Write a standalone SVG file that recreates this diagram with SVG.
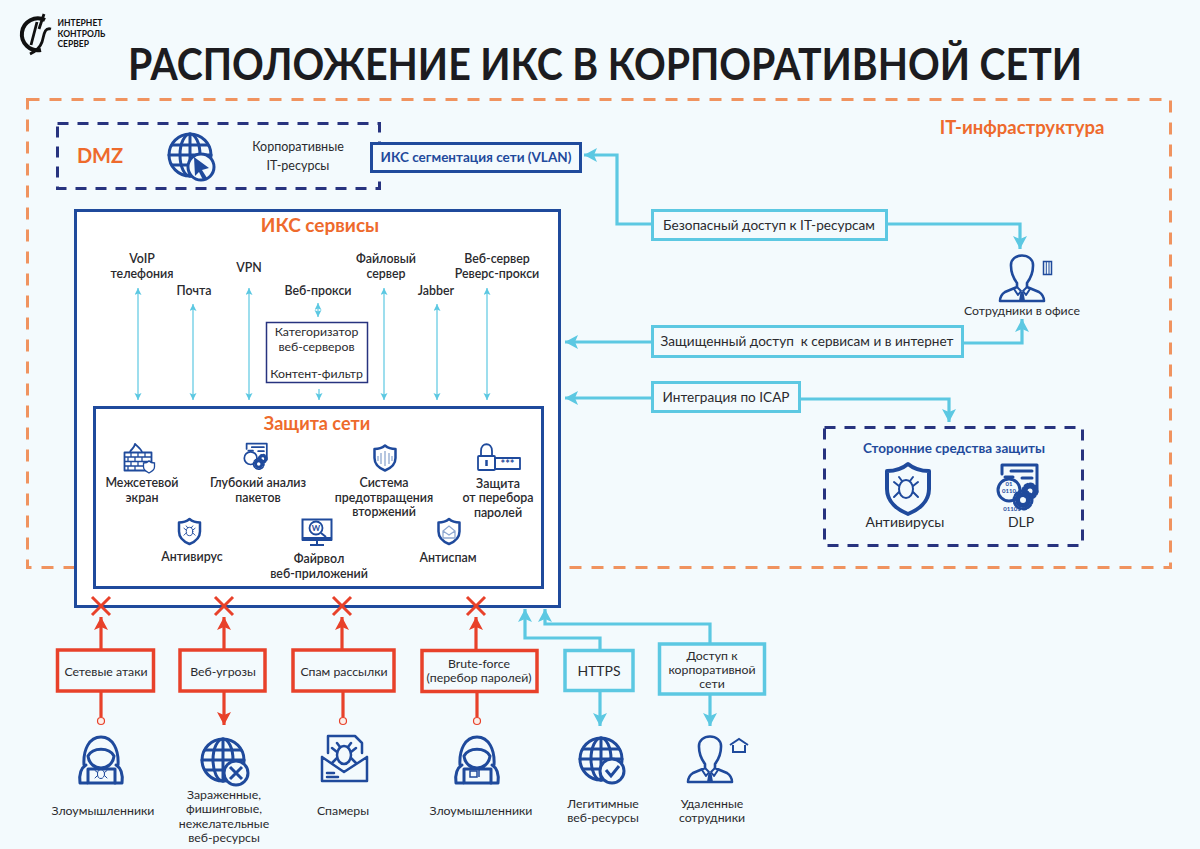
<svg xmlns="http://www.w3.org/2000/svg" width="1200" height="849" viewBox="0 0 1200 849">
<style>
text{font-family:"Lato","Noto Sans","Liberation Sans",sans-serif;fill:#2a2a2e;text-anchor:middle}
.t{font-size:13.6px}
.l{font-size:12.300px}
.s{font-size:12.400px;font-weight:600}
.o{fill:#ee6a2c;font-weight:700}
.n{fill:#1f4a9c;font-weight:700}
.lg{font-size:8.500px;font-weight:700;text-anchor:start;fill:#111}
.box{fill:#f3fafd;stroke-width:3.5}
.red{stroke:#e8412a}
.cy{stroke:#5cc8e2}
.dash{fill:none;stroke:#27337f;stroke-width:3;stroke-dasharray:11 9}
.ic{fill:none;stroke:#1f4a9c;stroke-width:3;stroke-linejoin:round;stroke-linecap:round}
.c{fill:none;stroke-width:3.2}
.thin{fill:none;stroke:#5cc8e2;stroke-width:1.2}
.x{stroke:#e8412a;stroke-width:3;fill:none}
.i2{fill:none;stroke:#1f4a9c;stroke-width:1.800;stroke-linejoin:round}
.mini{font-size:6px;fill:#1f4a9c;font-weight:700}
</style>
<defs>
<marker id="ac" markerUnits="userSpaceOnUse" markerWidth="16" markerHeight="16" refX="13" refY="7" orient="auto"><path d="M0,0 L13,7 L0,14 L3,7 Z" fill="#5cc8e2"/></marker>
<marker id="ar" markerUnits="userSpaceOnUse" markerWidth="16" markerHeight="16" refX="13" refY="7" orient="auto"><path d="M0,0 L13,7 L0,14 L3,7 Z" fill="#e8412a"/></marker>
<marker id="at" markerUnits="userSpaceOnUse" markerWidth="8" markerHeight="8" refX="7" refY="3.5" orient="auto-start-reverse"><path d="M0,0 L7,3.500 L0,7 L1.500,3.500 Z" fill="#5cc8e2"/></marker>
<symbol id="globe" overflow="visible" viewBox="-24 -24 48 48" width="48" height="48"><circle r="21"/><ellipse rx="10" ry="21"/><path d="M0,-21V21M-21,0H21M-18,-10H18M-18,10H18"/></symbol>
<symbol id="shield" overflow="visible" viewBox="-24 -27 48 54" width="48" height="54"><path d="M0,-25C6,-20 14,-18 21,-18V0C21,13 10,21 0,25C-10,21 -21,13 -21,0V-18C-14,-18 -6,-20 0,-25Z"/></symbol>
<symbol id="bug" overflow="visible" viewBox="-14 -14 28 28" width="28" height="28"><ellipse rx="7" ry="9"/><path d="M-7,-3L-12,-7M7,-3L12,-7M-7,3L-12,8M7,3L12,8M-4,-8L-7,-12M4,-8L7,-12"/></symbol>
<symbol id="person" overflow="visible" viewBox="-24 -25 48 50" width="48" height="50"><path d="M-11,-12C-12,-26 12,-26 11,-12C11,-5 8,1 5,5V9L17,14C20,16 22,20 22,23H-22C-22,20 -20,16 -17,14L-5,9V5C-8,1 -11,-5 -11,-12Z" stroke-width="2.600"/><path d="M-5,9L-1,13L-4,17L-8,11M5,9L1,13L4,17L8,11" stroke-width="2"/><path d="M-1.500,14H1.500L3,23H-3Z" fill="#1f4a9c" stroke="none"/></symbol>
<symbol id="hacker" overflow="visible" viewBox="-24 -25 48 50" width="48" height="50"><path d="M-17,5C-18,-10 -12,-23 0,-23C12,-23 18,-10 17,5"/><path d="M-13,-4C-8,-13 8,-13 13,-4C12,4 6,8 0,8C-6,8 -12,4 -13,-4Z"/><path d="M-14,23H-21C-22,15 -20,8 -15,5M14,23H21C22,15 20,8 15,5"/><rect x="-13" y="9" width="27" height="14"/></symbol>
<symbol id="gears" overflow="visible" viewBox="0 0 48 52" width="48" height="52"><path d="M6,12V3H41V30" stroke-width="3"/><path d="M15,9H36M26,16H36" stroke-width="3"/><circle cx="13" cy="28" r="11" stroke-width="3"/><path d="M9,15H17" stroke-width="3"/><circle cx="34" cy="29" r="4.500" stroke-width="4"/><circle cx="34" cy="29" r="7" stroke-width="3" stroke-dasharray="3 2.500"/><circle cx="27" cy="38" r="5.500" stroke-width="5"/><circle cx="27" cy="38" r="9" stroke-width="3" stroke-dasharray="3 2.500"/></symbol>
</defs>
<rect width="1200" height="849" fill="#f3fafd"/>

<g id="logo">
<path d="M45,20A16,16 0 1 0 41,50" fill="none" stroke="#111" stroke-width="4"/>
<path d="M37,22L31,45M44,14L39,29M51,29C44,27 44,36 42,42C40,48 36,51 30,54" fill="none" stroke="#111" stroke-width="2.800"/>
<text x="57.500" y="26" class="lg">ИНТЕРНЕТ</text>
<text x="57.500" y="36.500" class="lg">КОНТРОЛЬ</text>
<text x="57.500" y="47" class="lg">СЕРВЕР</text>
</g>
<text id="title" x="605" y="80" style="font-size:44px;font-weight:700;fill:#1c1c20" textLength="954" lengthAdjust="spacingAndGlyphs">РАСПОЛОЖЕНИЕ ИКС В КОРПОРАТИВНОЙ СЕТИ</text>

<g id="it-infra">
<rect x="27.500" y="99.500" width="1143" height="468" fill="none" stroke="#f0935f" stroke-width="3" stroke-dasharray="12 10"/>
<text x="1022" y="134" class="o" style="font-size:18.500px">IT-инфраструктура</text>
</g>

<g id="dmz">
<rect x="57.500" y="123.500" width="322" height="65" class="dash"/>
<text x="100" y="163" class="o" style="font-size:20px">DMZ</text>
<use href="#globe" x="166" y="131" class="ic"/>
<circle cx="201" cy="167" r="13" fill="#f3fafd" stroke="#1f4a9c" stroke-width="3"/>
<path d="M194,157L209,168L202,170L207,178L203,180L199,172L195,176Z" fill="#1f4a9c"/>
<text x="298" y="151" style="font-size:12.500px">Корпоративные</text>
<text x="298" y="170" style="font-size:12.500px">IT-ресурсы</text>
</g>
<g id="vlan">
<rect x="371.500" y="143.500" width="209" height="28" fill="#f3fafd" stroke="#1f4a9c" stroke-width="3"/>
<text x="476" y="162" class="n" style="font-size:13.500px">ИКС сегментация сети (VLAN)</text>
</g>

<g id="services">
<rect x="75.500" y="210.500" width="484" height="396" fill="#fff" stroke="#1f4a9c" stroke-width="3"/>
<text x="320" y="232" class="o" style="font-size:19px">ИКС сервисы</text>
<text x="142" y="263" class="s">VoIP</text><text x="142" y="278" class="s">телефония</text>
<text x="194" y="295" class="s">Почта</text>
<text x="249" y="272" class="s">VPN</text>
<text x="318" y="295" class="s">Веб-прокси</text>
<text x="386" y="263" class="s">Файловый</text><text x="386" y="278" class="s">сервер</text>
<text x="436" y="295" class="s">Jabber</text>
<text x="497" y="263" class="s">Веб-сервер</text><text x="497" y="278" class="s">Реверс-прокси</text>
</g>
<g id="categorizer">
<rect x="266.500" y="322.500" width="101" height="60" fill="#fff" stroke="#27337f" stroke-width="1.500"/>
<text x="316.500" y="336" class="l">Категоризатор</text>
<text x="316.500" y="351" class="l">веб-серверов</text>
<text x="316.500" y="378" class="l">Контент-фильтр</text>
</g>

<g id="protection">
<rect x="94.500" y="407.500" width="448" height="180" fill="#fff" stroke="#1f4a9c" stroke-width="3"/>
<text x="317" y="430" class="o" style="font-size:18px">Защита сети</text>
<g id="firewall">
<g class="i2"><rect x="124.500" y="452.500" width="27" height="18"/><path d="M124.500,457H151.500M124.500,461.500H151.500M124.500,466H151.500M131,452.500V457M138,452.500V457M145,452.500V457M128,457V461.500M135,457V461.500M142,457V461.500M131,461.500V466M138,461.500V466M128,466V470.500M135,466V470.500" stroke-width="1.300"/><path d="M130,452C131,449 134,449 135,444C138,447 141,449 142,452"/></g>
<path d="M143.500,463C146,463 148,462 149,461C150,462 152,463 154.500,463V467C154.500,470 151,472 149,473C147,472 143.500,470 143.500,467Z" fill="#fff" stroke="#1f4a9c" stroke-width="1.300"/>
<text x="142" y="487" class="s">Межсетевой</text><text x="142" y="502" class="s">экран</text>
</g>
<g id="dpi">
<use href="#gears" x="243" y="442" width="28" height="30" class="ic"/>
<text x="258" y="487" class="s">Глубокий анализ</text><text x="258" y="502" class="s">пакетов</text>
</g>
<g id="ips">
<use href="#shield" x="373" y="444.500" width="24" height="27" class="ic" style="stroke-width:5"/>
<path d="M385,451V466M381,453V464M389,453V464M378,456V461M392,456V461" fill="none" stroke="#8fa8d0" stroke-width="1.300"/>
<text x="384" y="487" class="s">Система</text><text x="384" y="502" class="s">предотвращения</text><text x="384" y="516" class="s">вторжений</text>
</g>
<g id="bruteforce-protection">
<g class="i2"><rect x="478" y="456" width="17" height="14" rx="1"/><path d="M481,456V451C481,442 492,442 492,451V456"/><rect x="495" y="458" width="25" height="11"/></g>
<path d="M486.500,460V466" stroke="#1f4a9c" stroke-width="2.500"/>
<text x="507.500" y="468" style="font-size:11px;font-weight:700;fill:#1f4a9c">***</text>
<text x="498" y="488" class="s">Защита</text><text x="498" y="502" class="s">от перебора</text><text x="498" y="517" class="s">паролей</text>
</g>
<g id="antivirus">
<use href="#shield" x="177.500" y="518" width="24" height="27" class="ic" style="stroke-width:5"/>
<use href="#bug" x="183" y="525" width="13" height="13" class="ic" style="stroke-width:2"/>
<text x="192" y="561" class="s">Антивирус</text>
</g>
<g id="waf">
<rect x="302.500" y="519.500" width="29" height="20" fill="none" stroke="#1f4a9c" stroke-width="2"/>
<rect x="302" y="537" width="30" height="4" fill="#1f4a9c"/>
<path d="M310,545H324M317,541V545" stroke="#1f4a9c" stroke-width="2" fill="none"/>
<circle cx="316" cy="528" r="6.500" fill="none" stroke="#1f4a9c" stroke-width="1.800"/>
<path d="M321,533L326,537" stroke="#1f4a9c" stroke-width="2"/>
<text x="316" y="531" style="font-size:8px;font-weight:700;fill:#1f4a9c">W</text>
<text x="319" y="563" class="s">Файрвол</text><text x="319" y="578" class="s">веб-приложений</text>
</g>
<g id="antispam">
<use href="#shield" x="437" y="518" width="24" height="27" class="ic" style="stroke-width:5"/>
<path d="M443,531L449,526L455,531V538H443ZM443,531L449,535L455,531" fill="none" stroke="#8fa8d0" stroke-width="1.300"/>
<text x="448" y="562" class="s">Антиспам</text>
</g>
</g>

<g id="connectors">
<path class="thin" marker-start="url(#at)" marker-end="url(#at)" d="M138,288V400"/>
<path class="thin" marker-start="url(#at)" marker-end="url(#at)" d="M193,304V400"/>
<path class="thin" marker-start="url(#at)" marker-end="url(#at)" d="M249,288V400"/>
<path class="thin" marker-start="url(#at)" marker-end="url(#at)" d="M318,303V317"/>
<path class="thin" marker-end="url(#at)" d="M319,389V400"/>
<path class="thin" marker-start="url(#at)" marker-end="url(#at)" d="M384,288V400"/>
<path class="thin" marker-start="url(#at)" marker-end="url(#at)" d="M437,304V400"/>
<path class="thin" marker-start="url(#at)" marker-end="url(#at)" d="M487,288V400"/>
<path class="c cy" marker-end="url(#ac)" d="M652,224H617V155H584"/>
<path class="c cy" marker-end="url(#ac)" d="M887,224H1020V249"/>
<path class="c cy" marker-end="url(#ac)" d="M652,342H565"/>
<path class="c cy" marker-end="url(#ac)" d="M963,343H1022V319"/>
<path class="c cy" marker-end="url(#ac)" d="M652,398H565"/>
<path class="c cy" marker-end="url(#ac)" d="M800,399H949V422"/>
<path class="c cy" marker-end="url(#ac)" d="M600,650V638H525V609"/>
<path class="c cy" marker-end="url(#ac)" d="M710,643V624H545V609"/>
<path class="c cy" marker-end="url(#ac)" d="M600,691V726"/>
<path class="c cy" marker-end="url(#ac)" d="M710,695V726"/>
<path class="c red" marker-end="url(#ar)" d="M101,649V617"/>
<path class="c red" marker-end="url(#ar)" d="M224,649V617"/>
<path class="c red" marker-end="url(#ar)" d="M342,649V617"/>
<path class="c red" marker-end="url(#ar)" d="M476,650V617"/>
<path class="c red" d="M101,692V717M343,692V717M477,692V717"/>
<path class="c red" marker-end="url(#ar)" d="M224,692V725"/>
<g fill="#fbeee9" stroke="#e8412a" stroke-width="1.200"><circle cx="101" cy="721" r="3.500"/><circle cx="343" cy="721" r="3.500"/><circle cx="477" cy="721" r="3.500"/></g>
<path class="x" d="M92,597L110,615M110,597L92,615M215,597L233,615M233,597L215,615M333,597L351,615M351,597L333,615M467,597L485,615M485,597L467,615"/>
</g>

<g id="secure-access"><rect x="652.500" y="210.500" width="234" height="29" class="box cy" style="stroke-width:3"/><text x="769" y="230" class="t">Безопасный доступ к IT-ресурсам</text></g>
<g id="protected-access"><rect x="652.500" y="326.500" width="310" height="30" class="box cy" style="stroke-width:3"/><text x="807" y="346" class="t" xml:space="preserve">Защищенный доступ  к сервисам и в интернет</text></g>
<g id="icap"><rect x="652.500" y="382.500" width="147" height="29" class="box cy" style="stroke-width:3"/><text x="726" y="402" class="t">Интеграция по ICAP</text></g>

<g id="office">
<use href="#person" x="998" y="253" class="ic"/>
<rect x="1043.500" y="261.500" width="8" height="13" fill="none" stroke="#1f4a9c" stroke-width="1.500"/><path d="M1046.300,262V274M1049,262V274" stroke="#1f4a9c"/>
<text x="1022" y="315" class="l">Сотрудники в офисе</text>
</g>

<g id="third-party">
<rect x="824.500" y="427.500" width="258" height="118" class="dash"/>
<text x="954" y="453" class="n" style="font-size:13.500px">Сторонние средства защиты</text>
<use href="#shield" x="884" y="462" class="ic" style="stroke-width:4"/>
<use href="#bug" x="892" y="475" class="ic" style="stroke-width:2"/>
<use href="#gears" x="996" y="462" class="ic"/>
<text x="1009" y="486" class="mini">01</text><text x="1009" y="493" class="mini">0110</text><text x="1012" y="511" class="mini">01101</text>
<text x="905" y="527" style="font-size:14px">Антивирусы</text>
<text x="1021" y="527" style="font-size:14px">DLP</text>
</g>

<g id="attack-net"><rect x="57.500" y="650" width="96" height="41" class="box red"/><text x="106" y="676" class="l">Сетевые атаки</text></g>
<g id="attack-web"><rect x="180" y="650" width="85" height="41" class="box red"/><text x="223" y="676" class="l">Веб-угрозы</text></g>
<g id="attack-spam"><rect x="293" y="650" width="101" height="41" class="box red"/><text x="344" y="676" class="l">Спам рассылки</text></g>
<g id="attack-brute"><rect x="422" y="650.500" width="115" height="41" class="box red"/><text x="479" y="668" class="l">Brute-force</text><text x="479" y="682" class="l">(перебор паролей)</text></g>
<g id="https"><rect x="565" y="650.500" width="68" height="40" class="box cy"/><text x="599" y="676" style="font-size:14px">HTTPS</text></g>
<g id="remote-access"><rect x="659.500" y="644" width="105" height="50" class="box cy"/><text x="712" y="660" class="l">Доступ к</text><text x="712" y="674" class="l">корпоративной</text><text x="712" y="688" class="l">сети</text></g>

<g id="attackers-1">
<use href="#hacker" x="77" y="735" class="ic"/>
<use href="#bug" x="94" y="767" width="14" height="14" class="ic" style="stroke-width:2"/>
<text x="103" y="815" class="l">Злоумышленники</text>
</g>
<g id="bad-sites">
<use href="#globe" x="199" y="736" class="ic"/>
<circle cx="236" cy="773" r="12" fill="#f3fafd" stroke="#1f4a9c" stroke-width="3"/>
<path d="M230,767L242,779M242,767L230,779" stroke="#1f4a9c" stroke-width="3"/>
<text x="224" y="799" class="l">Зараженные,</text>
<text x="224" y="813" class="l">фишинговые,</text>
<text x="224" y="828" class="l">нежелательные</text>
<text x="224" y="842" class="l">веб-ресурсы</text>
</g>
<g id="spammers">
<g class="ic" style="stroke-width:2.500"><path d="M322,757V781H367V757M322,757L344,772L367,757M328,753V736H355L362,743V753"/><path d="M327,773H334M327,777H338"/></g>
<use href="#bug" x="330" y="741" class="ic" style="stroke-width:2.500"/>
<text x="343" y="815" class="l">Спамеры</text>
</g>
<g id="attackers-2">
<use href="#hacker" x="453" y="735" class="ic"/>
<rect x="470" y="771" width="7" height="6" fill="none" stroke="#1f4a9c" stroke-width="1.500"/><path d="M479,777V771C479,766 485,766 485,770" fill="none" stroke="#1f4a9c" stroke-width="1.500"/>
<text x="481" y="815" class="l">Злоумышленники</text>
</g>
<g id="legit-sites">
<use href="#globe" x="577" y="735" class="ic"/>
<circle cx="612" cy="771" r="12" fill="#f3fafd" stroke="#1f4a9c" stroke-width="3"/>
<path d="M606,770L611,776L619,766" fill="none" stroke="#1f4a9c" stroke-width="3"/>
<text x="603" y="808" class="l">Легитимные</text>
<text x="603" y="822" class="l">веб-ресурсы</text>
</g>
<g id="remote-staff">
<use href="#person" x="686" y="734" class="ic"/>
<path d="M730,745L739,739L748,745M733,745V752H745V745" fill="none" stroke="#1f4a9c" stroke-width="2"/>
<text x="712" y="808" class="l">Удаленные</text>
<text x="712" y="822" class="l">сотрудники</text>
</g>
</svg>
